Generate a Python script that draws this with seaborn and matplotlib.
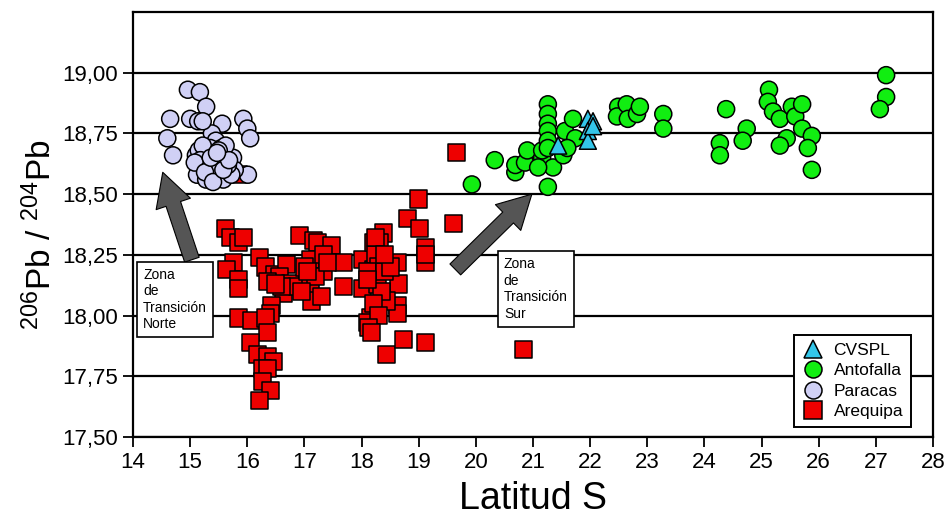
import numpy as np
import pandas as pd
import matplotlib
matplotlib.use("Agg")
import matplotlib.pyplot as plt
import seaborn as sns
from matplotlib.ticker import FuncFormatter

# --- data ---
arequipa_lat = [15.61, 15.70, 15.84, 15.93, 15.75, 15.64, 15.84, 15.84, 16.22, 16.31,
                16.48, 16.69, 16.57, 16.35, 16.75, 16.63, 16.87, 16.92, 17.15, 16.43,
                16.40, 15.84, 16.08, 16.31, 16.36, 16.05, 16.17, 16.35, 16.45, 16.26,
                16.36, 16.26, 16.40, 16.22, 17.22, 17.48, 17.68, 17.68, 17.33, 17.10,
                17.10, 17.13, 17.30, 17.33, 18.02, 18.02, 18.38, 18.32, 18.62, 18.64,
                18.62, 18.62, 18.15, 18.11, 18.20, 18.27, 18.44, 18.44, 18.73, 19.11,
                18.80, 19.02, 18.99, 19.11, 19.11, 19.11, 19.60, 19.66, 20.84, 15.84,
                17.00, 18.20, 18.25, 18.30, 18.10, 18.35, 18.40, 18.20, 18.30, 18.10,
                18.50, 17.20, 17.40, 17.05, 16.95, 16.60, 16.50, 18.12, 18.18, 18.25,
                18.40]
arequipa_pb = [18.36, 18.32, 18.30, 18.32, 18.22, 18.19, 18.15, 18.11, 18.24, 18.20,
               18.17, 18.21, 18.16, 18.14, 18.13, 18.09, 18.12, 18.33, 18.31, 18.04,
               18.01, 17.99, 17.98, 17.99, 17.93, 17.89, 17.84, 17.83, 17.81, 17.78,
               17.78, 17.73, 17.69, 17.65, 18.30, 18.29, 18.22, 18.12, 18.18, 18.23,
               18.12, 18.06, 18.08, 18.25, 18.23, 18.11, 18.34, 18.30, 18.22, 18.13,
               18.04, 18.01, 17.99, 17.97, 18.19, 18.13, 18.06, 17.84, 17.90, 17.89,
               18.40, 18.36, 18.48, 18.28, 18.22, 18.25, 18.38, 18.67, 17.86, 18.58,
               18.20, 18.30, 18.25, 18.20, 18.18, 18.10, 18.18, 18.05, 18.00, 18.15,
               18.20, 18.16, 18.22, 18.18, 18.10, 18.12, 18.13, 17.95, 17.93, 18.32,
               18.25]

paracas_lat = [14.96, 15.17, 15.28, 14.65, 15.00, 15.14, 15.56, 15.93, 16.00, 16.05,
               14.60, 15.38, 15.47, 14.70, 16.01, 15.22, 15.45,
               15.10, 15.15, 15.20, 15.25, 15.30, 15.35, 15.40, 15.45, 15.50, 15.55,
               15.60, 15.65, 15.70, 15.75, 15.78, 15.12, 15.28, 15.42, 15.58, 15.72,
               15.35, 15.55, 15.22, 15.62, 15.48, 15.18, 15.38, 15.08, 15.50,
               15.32, 15.44, 15.52, 15.66, 15.26, 15.40, 15.58, 15.68, 15.36, 15.47]
paracas_pb = [18.93, 18.92, 18.86, 18.81, 18.81, 18.80, 18.79, 18.81, 18.77, 18.73,
              18.73, 18.75, 18.71, 18.66, 18.58, 18.80, 18.72,
              18.66, 18.68, 18.60, 18.65, 18.62, 18.58, 18.66, 18.60, 18.57, 18.63,
              18.58, 18.66, 18.60, 18.65, 18.60, 18.58, 18.56, 18.56, 18.56, 18.58,
              18.69, 18.69, 18.70, 18.70, 18.64, 18.64, 18.62, 18.63, 18.68,
              18.60, 18.59, 18.61, 18.62, 18.59, 18.55, 18.60, 18.64, 18.65, 18.67]

antofalla_lat = [19.93, 20.33, 20.69, 20.69, 20.86, 20.90, 21.16, 21.16, 21.26, 21.35,
                 21.26, 21.26, 21.26, 21.26, 21.26, 21.26, 21.53, 21.56, 21.70, 21.74,
                 21.60, 21.09, 22.49, 22.47, 22.64, 22.66, 22.82, 22.87, 23.28, 23.28,
                 24.38, 24.27, 24.27, 24.74, 24.67, 25.13, 25.11, 25.20, 25.32, 25.53,
                 25.59, 25.71, 25.71, 25.88, 25.44, 25.32, 25.81, 25.88, 27.18, 27.18,
                 27.07]
antofalla_pb = [18.54, 18.64, 18.59, 18.62, 18.63, 18.68, 18.65, 18.68, 18.53, 18.61,
                18.87, 18.83, 18.79, 18.76, 18.72, 18.69, 18.66, 18.76, 18.81, 18.73,
                18.69, 18.61, 18.86, 18.82, 18.87, 18.81, 18.83, 18.86, 18.83, 18.77,
                18.85, 18.71, 18.66, 18.77, 18.72, 18.93, 18.88, 18.84, 18.81, 18.86,
                18.82, 18.87, 18.77, 18.74, 18.73, 18.70, 18.69, 18.60, 18.99, 18.90,
                18.85]

cvspl_lat = [21.44, 21.96, 22.05, 21.96, 21.96, 22.05]
cvspl_pb = [18.70, 18.81, 18.80, 18.76, 18.72, 18.78]

groups = ["CVSPL", "Antofalla", "Paracas", "Arequipa"]
colors = {"CVSPL": "#33c6ea", "Antofalla": "#11ee11",
          "Paracas": "#d0d0f5", "Arequipa": "#ee0000"}
markers = {"CVSPL": "^", "Antofalla": "o", "Paracas": "o", "Arequipa": "s"}

y_ticks = [17.50, 17.75, 18.00, 18.25, 18.50, 18.75, 19.00]
x_ticks = list(range(14, 29))

# draw order: Arequipa first, CVSPL on top
df = pd.concat([
    pd.DataFrame({"lat": arequipa_lat, "pb": arequipa_pb, "grupo": "Arequipa"}),
    pd.DataFrame({"lat": paracas_lat, "pb": paracas_pb, "grupo": "Paracas"}),
    pd.DataFrame({"lat": antofalla_lat, "pb": antofalla_pb, "grupo": "Antofalla"}),
    pd.DataFrame({"lat": cvspl_lat, "pb": cvspl_pb, "grupo": "CVSPL"}),
], ignore_index=True)

sns.set_theme(style="ticks")
plt.rcParams["font.family"] = ["Liberation Sans", "DejaVu Sans"]
plt.rcParams["mathtext.fontset"] = "custom"
plt.rcParams["mathtext.rm"] = "Liberation Sans"
plt.rcParams["mathtext.default"] = "regular"
plt.rcParams["text.color"] = "black"
plt.rcParams["axes.labelcolor"] = "black"

fig = plt.figure(figsize=(9.53, 5.27), dpi=100)
ax = fig.add_axes([0.1396, 0.1708, 0.8394, 0.8064])

sns.scatterplot(data=df, x="lat", y="pb", hue="grupo", style="grupo",
                hue_order=groups, style_order=groups, palette=colors,
                markers=markers, s=150, edgecolor="black", linewidth=1.1,
                ax=ax, zorder=3)

ax.set_xlim(14, 28)
ax.set_ylim(17.5, 19.25)
ax.set_xticks(x_ticks)
ax.set_yticks(y_ticks)
ax.yaxis.set_major_formatter(FuncFormatter(lambda v, p: f"{v:.2f}".replace(".", ",")))
ax.tick_params(axis="both", direction="out", length=7, width=1.3,
               labelsize=16, colors="black")
ax.tick_params(axis="y", pad=4)
ax.yaxis.grid(True, color="black", linewidth=1.6)
ax.set_axisbelow(True)
for sp in ax.spines.values():
    sp.set_visible(True)
    sp.set_color("black")
    sp.set_linewidth(1.6)

ax.set_xlabel("Latitud S", fontsize=27, labelpad=6, color="black")
ax.set_ylabel("$^{206}$Pb / $^{204}$Pb", fontsize=24, color="black")
ax.yaxis.set_label_coords(-0.094, 0.475)

# arrows towards the transition zones
arrow_kw = dict(arrowstyle="simple,head_length=1.2,head_width=1.3,tail_width=0.55",
                fc="#555555", ec="black", lw=0.8, mutation_scale=20,
                shrinkA=0, shrinkB=0)
ax.annotate("", xy=(14.52, 18.59), xytext=(15.03, 18.23),
            arrowprops=arrow_kw, zorder=4)
ax.annotate("", xy=(20.98, 18.50), xytext=(19.64, 18.19),
            arrowprops=arrow_kw, zorder=4)

box_kw = dict(boxstyle="square,pad=0.45", fc="white", ec="black", lw=1.2)
ax.text(14.175, 18.196, "Zona\nde\nTransición\nNorte", fontsize=10,
        va="top", ha="left", linespacing=1.22, bbox=box_kw, zorder=5)
ax.text(20.49, 18.24, "Zona\nde\nTransición\nSur", fontsize=10,
        va="top", ha="left", linespacing=1.22, bbox=box_kw, zorder=5)

handles, labels = ax.get_legend_handles_labels()
ax.legend(handles, labels, loc="lower right", bbox_to_anchor=(0.9725, 0.0235),
          borderaxespad=0, fontsize=12.5, frameon=True, fancybox=False,
          framealpha=1, edgecolor="black", title=None, labelspacing=0.3,
          handletextpad=0.6, handlelength=1.2, borderpad=0.45)
ax.get_legend().get_frame().set_linewidth(1.4)

fig.savefig("out.png", dpi=100)
